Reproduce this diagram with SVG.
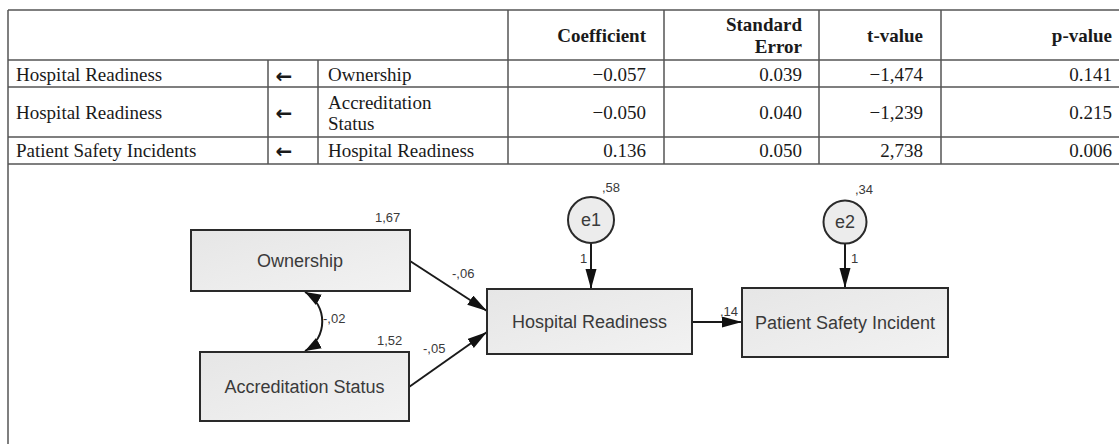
<svg xmlns="http://www.w3.org/2000/svg" width="1119" height="444" viewBox="0 0 1119 444">
<style>
.tl{stroke:#555;stroke-width:1.5;fill:none}
.tt{font-family:"Liberation Serif","Times New Roman",serif;font-size:19px;fill:#1a1a1a}
.th{font-family:"Liberation Serif","Times New Roman",serif;font-size:19px;font-weight:bold;fill:#1a1a1a;text-anchor:end}
.num{text-anchor:end}
.arr{font-family:"DejaVu Sans",sans-serif;font-size:20px;font-weight:bold;fill:#1a1a1a;text-anchor:middle}
.box{fill:url(#g);stroke:#2a2a2a;stroke-width:2}
.bl{font-family:"Liberation Sans",Arial,sans-serif;font-size:18px;fill:#3a3a3a;text-anchor:middle}
.sl{font-family:"Liberation Sans",Arial,sans-serif;font-size:13px;fill:#3a3a3a}
.ar{stroke:#1a1a1a;stroke-width:2;fill:none;marker-end:url(#ah)}
</style>
<defs>
<linearGradient id="g" x1="0" y1="0" x2="1" y2="1">
<stop offset="0" stop-color="#e6e6e6"/>
<stop offset="1" stop-color="#f2f2f2"/>
</linearGradient>
<marker id="ah" markerUnits="userSpaceOnUse" markerWidth="22" markerHeight="12" refX="20" refY="5.5" orient="auto">
<path d="M0,0 L20,5.5 L0,11 z" fill="#111"/>
</marker>
<marker id="ch" markerUnits="userSpaceOnUse" markerWidth="18" markerHeight="14" refX="16" refY="6" orient="auto-start-reverse">
<path d="M0,0 L16,6 L0,12 z" fill="#111"/>
</marker>
</defs>
<rect width="1119" height="444" fill="#fff"/>
<g id="table">
<path class="tl" d="M8,10 H1119 M8,60 H1119 M8,87 H1119 M8,137 H1119 M8,164 H1119 M8,10 V444 M268,60 V164 M318,60 V164 M508,10 V164 M664,10 V164 M819,10 V164 M941,10 V164"/>
<text class="th" x="646" y="42">Coefficient</text>
<text class="th" x="802" y="31">Standard</text>
<text class="th" x="802" y="53">Error</text>
<text class="th" x="923" y="42">t-value</text>
<text class="th" x="1112" y="42">p-value</text>
<text class="tt" x="16" y="81">Hospital Readiness</text>
<text class="tt" x="16" y="119">Hospital Readiness</text>
<text class="tt" x="16" y="157">Patient Safety Incidents</text>
<text class="arr" x="284" y="83">←</text>
<text class="arr" x="284" y="120">←</text>
<text class="arr" x="284" y="158">←</text>
<text class="tt" x="328" y="81">Ownership</text>
<text class="tt" x="328" y="109">Accreditation</text>
<text class="tt" x="328" y="130">Status</text>
<text class="tt" x="328" y="157">Hospital Readiness</text>
<text class="tt num" x="646" y="81">−0.057</text>
<text class="tt num" x="646" y="119">−0.050</text>
<text class="tt num" x="646" y="157">0.136</text>
<text class="tt num" x="802" y="81">0.039</text>
<text class="tt num" x="802" y="119">0.040</text>
<text class="tt num" x="802" y="157">0.050</text>
<text class="tt num" x="923" y="81">−1,474</text>
<text class="tt num" x="923" y="119">−1,239</text>
<text class="tt num" x="923" y="157">2,738</text>
<text class="tt num" x="1112" y="81">0.141</text>
<text class="tt num" x="1112" y="119">0.215</text>
<text class="tt num" x="1112" y="157">0.006</text>
</g>
<g id="connectors">
<path class="ar" d="M410,261 L487,311"/>
<path class="ar" d="M409,387 L487,332"/>
<path class="ar" d="M591,243 L591,289"/>
<path class="ar" d="M845,243.5 L845,288"/>
<path class="ar" d="M692,322 L742,322"/>
<path d="M305,292 C328,305 328,338 305,351" stroke="#1a1a1a" stroke-width="2" fill="none" marker-start="url(#ch)" marker-end="url(#ch)"/>
<text class="sl" x="452" y="278">-,06</text>
<text class="sl" x="423" y="353">-,05</text>
<text class="sl" x="323" y="323">-,02</text>
<text class="sl" x="580" y="263">1</text>
<text class="sl" x="851" y="263">1</text>
<text class="sl" x="720" y="316">,14</text>
</g>
<g id="ownership">
<rect class="box" x="191" y="230" width="219" height="61"/>
<text class="bl" x="300" y="267">Ownership</text>
<text class="sl" x="375" y="222">1,67</text>
</g>
<g id="accreditation">
<rect class="box" x="200" y="352" width="209" height="69"/>
<text class="bl" x="304.5" y="393">Accreditation Status</text>
<text class="sl" x="377" y="345">1,52</text>
</g>
<g id="readiness">
<rect class="box" x="487" y="289" width="205" height="65"/>
<text class="bl" x="589.5" y="328">Hospital Readiness</text>
</g>
<g id="safety">
<rect class="box" x="742" y="288" width="206" height="69"/>
<text class="bl" x="845" y="329">Patient Safety Incident</text>
</g>
<g id="e1">
<circle cx="591" cy="220" r="23" fill="#ececec" stroke="#2a2a2a" stroke-width="2"/>
<text class="bl" x="591" y="226">e1</text>
<text class="sl" x="602" y="192">,58</text>
</g>
<g id="e2">
<circle cx="845" cy="222" r="21.5" fill="#ececec" stroke="#2a2a2a" stroke-width="2"/>
<text class="bl" x="845" y="228">e2</text>
<text class="sl" x="855" y="194">,34</text>
</g>
</svg>
